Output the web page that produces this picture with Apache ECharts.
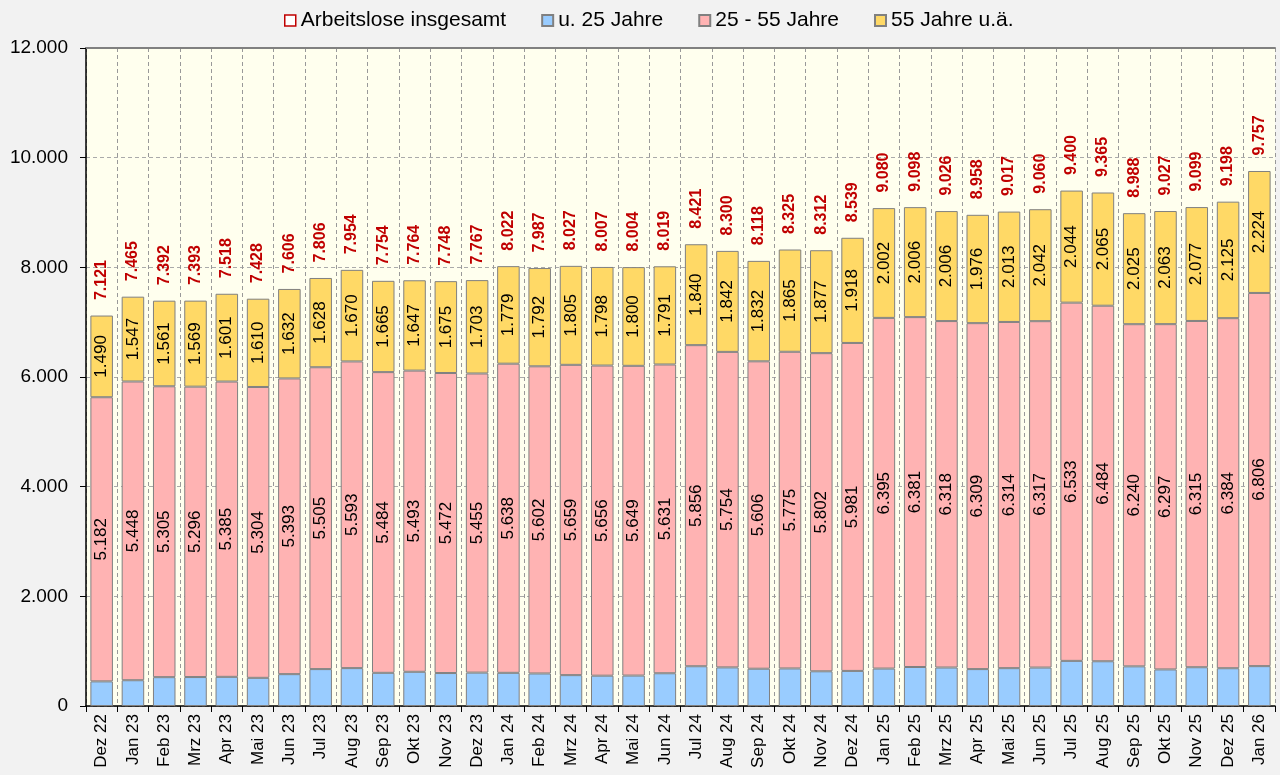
<!DOCTYPE html>
<html><head><meta charset="utf-8">
<script src="https://cdn.jsdelivr.net/npm/echarts@6/dist/echarts.min.js"></script>
<style>html,body{margin:0;padding:0;background:#f2f2f2}#c{width:1280px;height:775px}</style>
</head><body><div id="c"></div>
<script>
const categories = ["Dez 22","Jan 23","Feb 23","Mrz 23","Apr 23","Mai 23","Jun 23","Jul 23","Aug 23","Sep 23","Okt 23","Nov 23","Dez 23","Jan 24","Feb 24","Mrz 24","Apr 24","Mai 24","Jun 24","Jul 24","Aug 24","Sep 24","Okt 24","Nov 24","Dez 24","Jan 25","Feb 25","Mrz 25","Apr 25","Mai 25","Jun 25","Jul 25","Aug 25","Sep 25","Okt 25","Nov 25","Dez 25","Jan 26"];
const total = [7121,7465,7392,7393,7518,7428,7606,7806,7954,7754,7764,7748,7767,8022,7987,8027,8007,8004,8019,8421,8300,8118,8325,8312,8539,9080,9098,9026,8958,9017,9060,9400,9365,8988,9027,9099,9198,9757];
const under25 = [449,470,526,528,532,514,581,673,691,605,624,601,609,605,593,563,553,555,597,725,704,680,685,633,640,683,711,702,673,690,701,823,816,723,667,707,689,727];
const mid25to55 = [5182,5448,5305,5296,5385,5304,5393,5505,5593,5484,5493,5472,5455,5638,5602,5659,5656,5649,5631,5856,5754,5606,5775,5802,5981,6395,6381,6318,6309,6314,6317,6533,6484,6240,6297,6315,6384,6806];
const over55 = [1490,1547,1561,1569,1601,1610,1632,1628,1670,1665,1647,1675,1703,1779,1792,1805,1798,1800,1791,1840,1842,1832,1865,1877,1918,2002,2006,2006,1976,2013,2042,2044,2065,2025,2063,2077,2125,2224];
const yTicks = {min:0, max:12000, interval:2000};

const fmt = v => String(v).replace(/\B(?=(\d{3})+(?!\d))/g, '.');
const FONT = '"Liberation Sans", Arial, sans-serif';
const chart = echarts.init(document.getElementById('c'), null, {renderer:'canvas'});
const barBase = {type:'bar', stack:'a', barWidth:'72%', xAxisIndex:0};
const border = {borderColor:'#808080', borderWidth:1};
const innerLabel = {show:true, position:'inside', rotate:90, fontSize:17, color:'#000', fontFamily:FONT, formatter:p=>fmt(p.value)};
chart.setOption({
  backgroundColor:'#f2f2f2',
  textStyle:{fontFamily:FONT},
  animation:false,
  legend:{
    top:5, left:279, itemGap:35, itemWidth:11, itemHeight:11,
    textStyle:{fontSize:21, color:'#000', fontFamily:FONT},
    data:[
      {name:'Arbeitslose insgesamt', icon:'rect', itemStyle:{color:'#ffffff', borderColor:'#c00000', borderWidth:1.5}},
      {name:'u. 25 Jahre', icon:'rect'},
      {name:'25 - 55 Jahre', icon:'rect'},
      {name:'55 Jahre u.ä.', icon:'rect'}
    ]
  },
  grid:{left:86, right:5, top:48, bottom:69, show:true, backgroundColor:'#ffffee', borderWidth:0},
  xAxis:[{
    type:'category', data:categories,
    axisLine:{lineStyle:{color:'#000', width:1.5}},
    axisTick:{show:true, length:6, lineStyle:{color:'#000'}},
    axisLabel:{rotate:90, fontSize:17, color:'#000', margin:8, fontFamily:FONT},
    splitLine:{show:true, lineStyle:{color:'#999', type:[4,3], width:1}}
  },{
    type:'category', data:categories, position:'top',
    axisLine:{show:true, lineStyle:{color:'#808080', width:2}},
    axisTick:{show:false}, axisLabel:{show:false}, splitLine:{show:false}
  }],
  yAxis:{
    type:'value', min:yTicks.min, max:yTicks.max, interval:yTicks.interval,
    axisLine:{show:true, lineStyle:{color:'#000', width:1.5}},
    axisTick:{show:true, length:6, lineStyle:{color:'#000'}},
    axisLabel:{fontSize:19, color:'#000', margin:18, formatter:v=>fmt(v), fontFamily:FONT},
    splitLine:{show:true, lineStyle:{color:'#aaa', type:[4,3], width:1}}
  },
  series:[
    Object.assign({}, barBase, {name:'u. 25 Jahre', data:under25, itemStyle:Object.assign({color:'#99ccff'}, border)}),
    Object.assign({}, barBase, {name:'25 - 55 Jahre', data:mid25to55, itemStyle:Object.assign({color:'#ffb3b3'}, border), label:innerLabel}),
    Object.assign({}, barBase, {name:'55 Jahre u.ä.', data:over55, itemStyle:Object.assign({color:'#ffd966'}, border), label:innerLabel}),
    {name:'Arbeitslose insgesamt', type:'line', data:total, symbol:'circle', symbolSize:1, showSymbol:true,
      lineStyle:{opacity:0, width:0}, itemStyle:{color:'rgba(0,0,0,0)'},
      label:{show:true, position:'top', distance:15, rotate:90, align:'left', verticalAlign:'middle',
        fontSize:16, fontWeight:'bold', color:'#c00000', fontFamily:FONT, formatter:p=>fmt(p.value)}}
  ]
});
</script></body></html>
